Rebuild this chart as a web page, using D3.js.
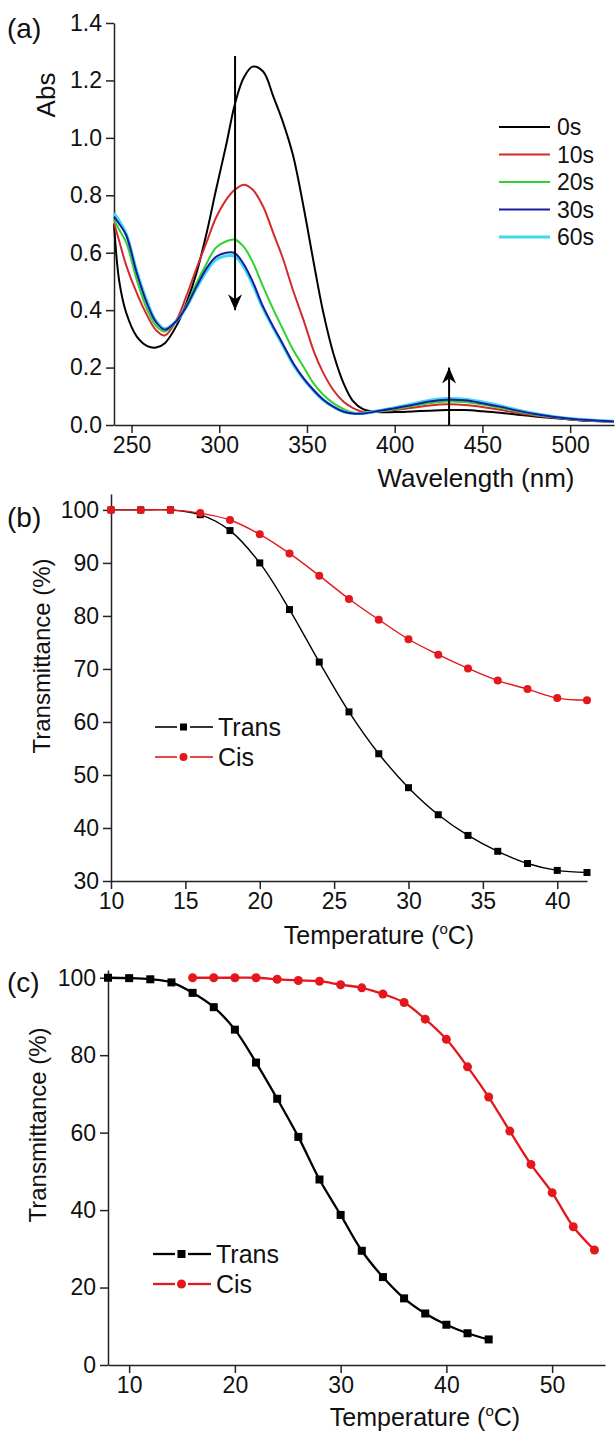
<!DOCTYPE html>
<html>
<head>
<meta charset="utf-8">
<script src="https://cdn.jsdelivr.net/npm/d3@7"></script>
<style>
  body { margin: 0; background: #fff; }
  svg { display: block; font-family: Arial, "Liberation Sans", sans-serif; }
  .axis path, .axis line { stroke: #222; stroke-width: 1.5; }
  .axis text { fill: #111; font-family: Arial, "Liberation Sans", sans-serif; }
</style>
</head>
<body>
<svg id="chart" width="615" height="1432"></svg>
<script>
// ---- panel (a): UV-vis spectra ----
const wavelengths = [240, 243, 247, 253, 259, 264, 269, 276, 281, 287, 293, 298, 304, 309, 314, 319, 325, 331, 336, 342,
  348, 354, 359, 365, 371, 376, 382, 390, 400, 410, 420, 430, 440, 450, 460, 470, 480, 490, 500, 510, 525];
const abs0s = [0.70, 0.50, 0.39, 0.308, 0.275, 0.270, 0.285, 0.350, 0.420, 0.529, 0.674, 0.815, 0.977, 1.12, 1.21, 1.248, 1.231, 1.141, 1.06, 0.94,
  0.761, 0.56, 0.40, 0.25, 0.143, 0.085, 0.055, 0.045, 0.045, 0.047, 0.050, 0.052, 0.052, 0.048, 0.043, 0.036, 0.030, 0.024, 0.019, 0.015, 0.012];
const abs10s = [0.703, 0.64, 0.555, 0.459, 0.38, 0.33, 0.312, 0.37, 0.445, 0.545, 0.64, 0.72, 0.785, 0.82, 0.837, 0.82, 0.761, 0.665, 0.585, 0.47,
  0.366, 0.255, 0.185, 0.122, 0.08, 0.06, 0.046, 0.047, 0.052, 0.060, 0.068, 0.072, 0.070, 0.063, 0.053, 0.042, 0.033, 0.026, 0.020, 0.016, 0.012];
const abs20s = [0.714, 0.68, 0.635, 0.505, 0.40, 0.345, 0.326, 0.364, 0.414, 0.494, 0.565, 0.617, 0.64, 0.645, 0.62, 0.568, 0.482, 0.40, 0.337, 0.263,
  0.203, 0.143, 0.107, 0.076, 0.055, 0.044, 0.040, 0.046, 0.055, 0.066, 0.076, 0.082, 0.080, 0.071, 0.060, 0.047, 0.036, 0.028, 0.021, 0.017, 0.012];
const abs30s = [0.726, 0.70, 0.66, 0.529, 0.42, 0.358, 0.332, 0.365, 0.41, 0.482, 0.548, 0.585, 0.60, 0.598, 0.56, 0.50, 0.412, 0.34, 0.285, 0.217,
  0.163, 0.12, 0.09, 0.064, 0.046, 0.040, 0.040, 0.048, 0.058, 0.070, 0.082, 0.088, 0.086, 0.076, 0.064, 0.050, 0.038, 0.029, 0.022, 0.017, 0.012];
const abs60s = [0.738, 0.71, 0.665, 0.535, 0.428, 0.362, 0.335, 0.365, 0.408, 0.476, 0.538, 0.575, 0.589, 0.587, 0.55, 0.49, 0.405, 0.335, 0.28, 0.212,
  0.16, 0.118, 0.088, 0.063, 0.046, 0.041, 0.041, 0.049, 0.060, 0.073, 0.086, 0.092, 0.090, 0.080, 0.067, 0.052, 0.040, 0.030, 0.023, 0.018, 0.013];
const timeLabels = ['0s', '10s', '20s', '30s', '60s'];
const timeColors = ['#000000', '#d42a2a', '#2ed12e', '#1a1aa0', '#3fd8ef'];
// arrows: [wavelength, from, to]
const arrowsA = [[309, 1.285, 0.40], [431, 0.0, 0.20]];

// ---- panel (b) ----
const tempB = [10, 12, 14, 16, 18, 20, 22, 24, 26, 28, 30, 32, 34, 36, 38, 40, 42];
const transB = [100, 100, 100, 99.1, 96.1, 90.0, 81.2, 71.3, 61.9, 54.0, 47.6, 42.5, 38.6, 35.6, 33.3, 32.0, 31.6];
const cisB = [100, 100, 100, 99.4, 98.1, 95.4, 91.8, 87.6, 83.2, 79.3, 75.6, 72.7, 70.1, 67.8, 66.2, 64.5, 64.1];

// ---- panel (c) ----
const tempCTrans = [8, 10, 12, 14, 16, 18, 20, 22, 24, 26, 28, 30, 32, 34, 36, 38, 40, 42, 44];
const transC = [100, 99.9, 99.6, 98.8, 96.1, 92.4, 86.6, 78.1, 68.75, 58.9, 47.9, 38.75, 29.5, 22.7, 17.2, 13.3, 10.4, 8.2, 6.6];
const tempCCis = [16, 18, 20, 22, 24, 26, 28, 30, 32, 34, 36, 38, 40, 42, 44, 46, 48, 50, 52, 54];
const cisC = [100, 100, 100, 100, 99.6, 99.3, 99.1, 98.2, 97.4, 95.8, 93.6, 89.3, 84.1, 77.0, 69.2, 60.4, 51.8, 44.5, 35.7, 29.7];

const RED = '#e3171c';
const svg = d3.select('#chart');

// axes with major + minor ticks
function drawAxes(x, y, o) {
  const gx = svg.append('g').attr('class', 'axis').attr('transform', `translate(0,${y.range()[0]})`);
  gx.call(d3.axisBottom(x).tickValues(o.xMinor).tickSize(4).tickSizeOuter(0).tickFormat(''));
  gx.call(d3.axisBottom(x).tickValues(o.xMajor).tickSize(8).tickSizeOuter(0).tickPadding(4).tickFormat(o.xFmt || d3.format('d')));
  gx.selectAll('text').style('font-size', o.fs + 'px');

  const gy = svg.append('g').attr('class', 'axis').attr('transform', `translate(${x.range()[0]},0)`);
  gy.call(d3.axisLeft(y).tickValues(o.yMinor).tickSize(4).tickSizeOuter(0).tickFormat(''));
  gy.call(d3.axisLeft(y).tickValues(o.yMajor).tickSize(8).tickSizeOuter(0).tickPadding(4).tickFormat(o.yFmt || d3.format('d')));
  gy.selectAll('text').style('font-size', o.fs + 'px');
}

function tempTitle(cx, cy) {
  const t = svg.append('text').attr('x', cx).attr('y', cy).attr('text-anchor', 'middle')
    .style('font-size', '25px').attr('fill', '#111');
  t.append('tspan').text('Temperature (');
  t.append('tspan').text('o').attr('dy', -10).style('font-size', '15px');
  t.append('tspan').text('C)').attr('dy', 10);
}

function label(txt, x, y, fs, rot) {
  const t = svg.append('text').attr('text-anchor', 'middle').style('font-size', fs + 'px').attr('fill', '#111').text(txt);
  if (rot) t.attr('transform', `translate(${x},${y}) rotate(-90)`).attr('dy', '0.35em');
  else t.attr('x', x).attr('y', y);
  return t;
}

function panelTag(txt, y) {
  svg.append('text').attr('x', 7).attr('y', y).style('font-size', '28px').attr('fill', '#111').text(txt);
}

// ================= (a) =================
const xA = d3.scaleLinear().domain([240, 525]).range([114, 614]);
const yA = d3.scaleLinear().domain([0, 1.4]).range([425, 23]);
drawAxes(xA, yA, {
  xMajor: [250, 300, 350, 400, 450, 500], xMinor: [275, 325, 375, 425, 475, 525],
  yMajor: [0, 0.2, 0.4, 0.6, 0.8, 1.0, 1.2, 1.4], yMinor: [0.1, 0.3, 0.5, 0.7, 0.9, 1.1, 1.3],
  yFmt: d3.format('.1f'), fs: 23
});

const lineA = d3.line().x(d => xA(d[0])).y(d => yA(d[1])).curve(d3.curveCatmullRom.alpha(0.5));
const spectra = [abs0s, abs10s, abs20s, abs60s, abs30s];
const specIdx = [0, 1, 2, 4, 3];
spectra.forEach((s, k) => {
  const i = specIdx[k];
  svg.append('path')
    .datum(wavelengths.map((w, j) => [w, s[j]]))
    .attr('d', lineA)
    .attr('fill', 'none')
    .attr('stroke', timeColors[i])
    .attr('stroke-width', i === 4 ? 3 : 2);
});

// arrows
arrowsA.forEach(a => {
  svg.append('line')
    .attr('x1', xA(a[0])).attr('x2', xA(a[0]))
    .attr('y1', yA(a[1])).attr('y2', yA(a[2]))
    .attr('stroke', '#000').attr('stroke-width', 2);
  const tx = xA(a[0]), ty = yA(a[2]);
  const dir = a[2] < a[1] ? 1 : -1; // 1 = pointing down
  svg.append('path')
    .attr('d', `M${tx},${ty} L${tx - 7},${ty - dir * 16} L${tx},${ty - dir * 11} L${tx + 7},${ty - dir * 16} Z`)
    .attr('fill', '#000');
});

// legend (a)
timeLabels.forEach((t, i) => {
  const ly = 127 + i * 27.5;
  svg.append('line').attr('x1', 499).attr('x2', 550).attr('y1', ly).attr('y2', ly)
    .attr('stroke', timeColors[i]).attr('stroke-width', i === 4 ? 3 : 2);
  svg.append('text').attr('x', 557).attr('y', ly).attr('dy', '0.35em')
    .style('font-size', '23px').attr('fill', '#111').text(t);
});

label('Abs', 46, 95, 26, true);
label('Wavelength (nm)', 476, 487, 26, false);
panelTag('(a)', 38);

// ================= (b) =================
const xB = d3.scaleLinear().domain([10, 42]).range([111, 587]);
const yB = d3.scaleLinear().domain([30, 103]).range([881, 494]);
drawAxes(xB, yB, {
  xMajor: [10, 15, 20, 25, 30, 35, 40], xMinor: [12.5, 17.5, 22.5, 27.5, 32.5, 37.5],
  yMajor: [30, 40, 50, 60, 70, 80, 90, 100], yMinor: [35, 45, 55, 65, 75, 85, 95],
  fs: 23
});

function series(x, y, xs, ys, color, shape, lw, ms) {
  const pts = xs.map((v, i) => [v, ys[i]]);
  const ln = d3.line().x(d => x(d[0])).y(d => y(d[1])).curve(d3.curveCatmullRom.alpha(0.5));
  svg.append('path').datum(pts).attr('d', ln).attr('fill', 'none').attr('stroke', color).attr('stroke-width', lw);
  marks(pts.map(d => [x(d[0]), y(d[1])]), color, shape, ms);
}
function marks(pts, color, shape, ms) {
  pts.forEach(p => {
    if (shape === 'square') {
      svg.append('rect').attr('x', p[0] - ms / 2).attr('y', p[1] - ms / 2).attr('width', ms).attr('height', ms).attr('fill', color);
    } else {
      svg.append('circle').attr('cx', p[0]).attr('cy', p[1]).attr('r', ms / 2 + 0.5).attr('fill', color);
    }
  });
}
function legend(x0, ys, names, colors, shapes, lw, ms) {
  names.forEach((n, i) => {
    const ly = ys[i];
    svg.append('line').attr('x1', x0).attr('x2', x0 + 22).attr('y1', ly).attr('y2', ly).attr('stroke', colors[i]).attr('stroke-width', lw);
    svg.append('line').attr('x1', x0 + 35).attr('x2', x0 + 58).attr('y1', ly).attr('y2', ly).attr('stroke', colors[i]).attr('stroke-width', lw);
    marks([[x0 + 28.5, ly]], colors[i], shapes[i], ms);
    svg.append('text').attr('x', x0 + 63).attr('y', ly).attr('dy', '0.35em').style('font-size', '25px').attr('fill', '#111').text(n);
  });
}

series(xB, yB, tempB, transB, '#000', 'square', 1.4, 7);
series(xB, yB, tempB, cisB, RED, 'circle', 1.4, 7);
legend(155, [727, 757], ['Trans', 'Cis'], ['#000', RED], ['square', 'circle'], 1.6, 7);

panelTag('(b)', 527);
label('Transmittance (%)', 42, 656, 24, true);
tempTitle(379, 944);

// ================= (c) =================
const xC = d3.scaleLinear().domain([8, 55]).range([108, 605]);
const yC = d3.scaleLinear().domain([0, 102]).range([1365, 970]);
drawAxes(xC, yC, {
  xMajor: [10, 20, 30, 40, 50], xMinor: [15, 25, 35, 45, 55],
  yMajor: [0, 20, 40, 60, 80, 100], yMinor: [10, 30, 50, 70, 90],
  fs: 23
});

series(xC, yC, tempCTrans, transC, '#000', 'square', 2.3, 8);
series(xC, yC, tempCCis, cisC, RED, 'circle', 2.3, 8);
legend(153, [1254, 1284], ['Trans', 'Cis'], ['#000', RED], ['square', 'circle'], 2.3, 8);

panelTag('(c)', 992);
label('Transmittance (%)', 38, 1125, 24, true);
tempTitle(425, 1426);
</script>
</body>
</html>
